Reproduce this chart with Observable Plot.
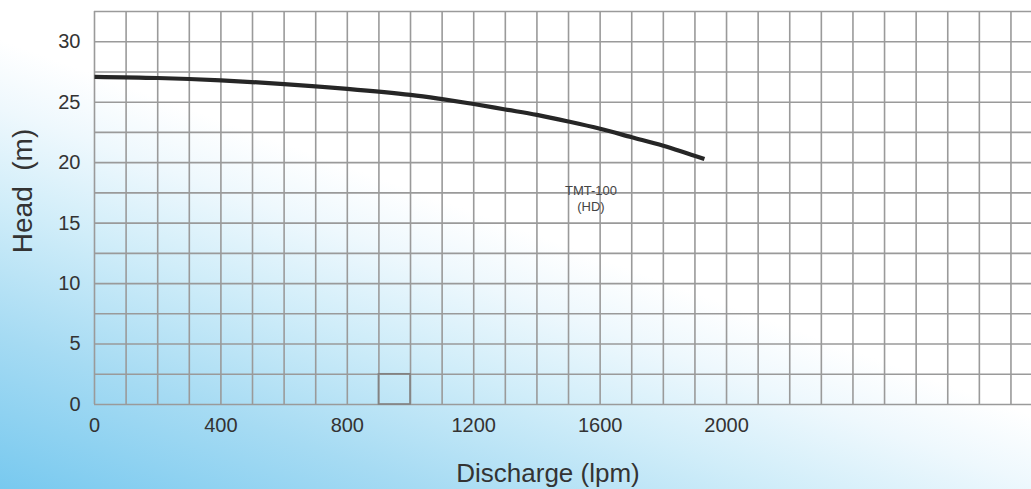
<!DOCTYPE html>
<html>
<head>
<meta charset="utf-8">
<script src="https://cdn.jsdelivr.net/npm/d3@7"></script>
<script src="https://cdn.jsdelivr.net/npm/@observablehq/plot@0.6"></script>
<style>
  html, body { margin: 0; padding: 0; background: #fff; }
  #chart {
    width: 1031px; height: 489px; overflow: hidden;
    background: linear-gradient(20deg, #78c9ef 0%, #a6dbf3 18%, #d0edf9 33%, #eef8fd 44%, #ffffff 52%, #ffffff 100%);
  }
  #chart svg { background: transparent; display: block; }
</style>
</head>
<body>
<div id="chart"></div>
<script>
// Pump curve TMT-100 (HD): discharge (lpm) vs head (m)
const discharge = [0, 200, 400, 600, 800, 1000, 1100, 1200, 1300, 1400, 1500, 1600, 1700, 1800, 1930];
const head      = [27.1, 27.0, 26.8, 26.5, 26.1, 25.6, 25.25, 24.85, 24.4, 23.95, 23.4, 22.8, 22.1, 21.4, 20.3];

const xTicks = [0, 400, 800, 1200, 1600, 2000];
const yTicks = [0, 5, 10, 15, 20, 25, 30];
const xGrid = d3.range(0, 3000, 100);      // every 100 lpm
const yGrid = d3.range(0, 33, 2.5);        // every 2.5 m
const xMax = 2965, yMax = 32.5;

const curveLabel = ["TMT-100\n(HD)"];
const curveLabelX = [1571], curveLabelY = [17.1];
const highlightCell = [{x1: 900, x2: 1000, y1: 0, y2: 2.5}];

const curve = discharge.map((d, i) => ({q: d, h: head[i]}));
const font = "'Liberation Sans', Arial, Helvetica, sans-serif";

const chart = Plot.plot({
  width: 1031,
  height: 489,
  marginLeft: 94,
  marginRight: 0,
  marginTop: 11,
  marginBottom: 85,
  style: {fontFamily: font, background: "transparent", color: "#333"},
  x: {domain: [0, xMax]},
  y: {domain: [0, yMax]},
  marks: [
    Plot.ruleX(xGrid, {x: d => d, y1: 0, y2: yMax, stroke: "#9a9a9a", strokeWidth: 1.6, strokeOpacity: 1}),
    Plot.ruleY(yGrid, {y: d => d, x1: 0, x2: xMax, stroke: "#9a9a9a", strokeWidth: 1.6, strokeOpacity: 1}),
    Plot.rect(highlightCell, {x1: "x1", x2: "x2", y1: "y1", y2: "y2", fill: "none", stroke: "#828282", strokeWidth: 1.6}),
    Plot.axisX({ticks: xTicks, tickSize: 0, tickPadding: 13, fontSize: 20, label: null, tickFormat: d => String(d)}),
    Plot.axisY({ticks: yTicks, tickSize: 0, tickPadding: 14, fontSize: 20, label: null}),
    Plot.line(curve, {x: "q", y: "h", stroke: "#262626", strokeWidth: 4.2, curve: "catmull-rom", strokeLinecap: "butt"}),
    Plot.text(curveLabel, {x: curveLabelX, y: curveLabelY, text: d => d, fontSize: 13, fill: "#444", lineHeight: 1.2}),
    Plot.text(["Head  (m)"], {frameAnchor: "left", textAnchor: "middle", lineAnchor: "middle", dx: -71, dy: -17, rotate: -90, text: d => d, fontSize: 28, fill: "#333"}),
    Plot.text(["Discharge (lpm)"], {frameAnchor: "bottom", textAnchor: "middle", lineAnchor: "middle", dx: -15, dy: 69, text: d => d, fontSize: 26, fill: "#333"})
  ]
});
document.getElementById("chart").appendChild(chart);
</script>
</body>
</html>
